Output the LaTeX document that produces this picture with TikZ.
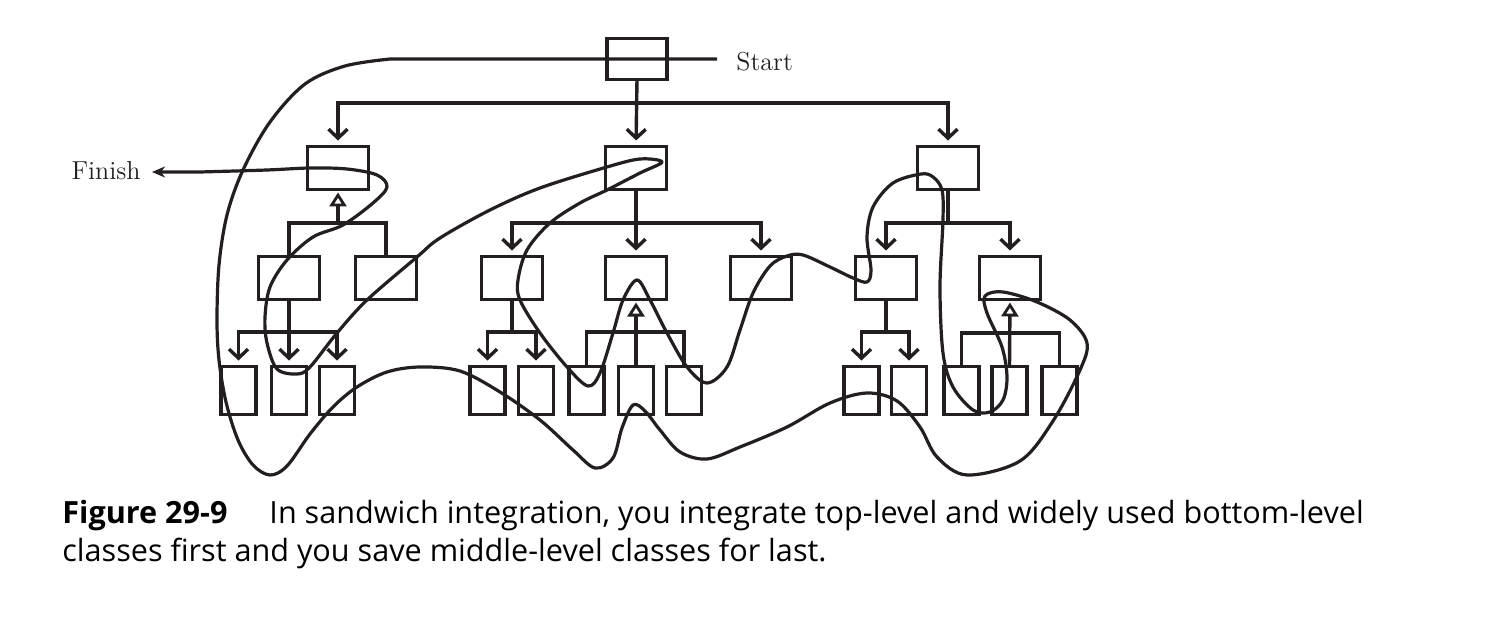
\documentclass[tikz,border=0pt]{standalone}
\usepackage{fontspec}
\newfontfamily\capfont{Open Sans}
\usetikzlibrary{arrows.meta}
\definecolor{ink}{HTML}{231F20}
\begin{document}
\begin{tikzpicture}[x=0.5pt,y=-0.5pt,
  box/.style={draw=ink, line width=1.7pt, inner sep=0pt, outer sep=0pt, minimum width=30.5pt, minimum height=21.5pt},
  leaf/.style={box, minimum width=17.5pt, minimum height=24pt},
  link/.style={draw=ink, line width=1.7pt},
  arr/.style={link, -{Straight Barb[length=4.5pt,width=9.5pt]}, shorten >=3pt},
  uparr/.style={link, -{Triangle[open,length=7pt,width=8.5pt,line width=1.4pt]}, shorten >=1.5pt},
  curve/.style={draw=ink, line width=1.6pt, line join=round},
  lbl/.style={text=ink, font=\fontsize{13}{15}\selectfont, inner sep=0pt},
  captext/.style={anchor=base west, inner sep=0pt, text=black, font=\capfont\fontsize{15.3}{18}\selectfont}]
\useasboundingbox (0,0) rectangle (1512,626);
% top
\node[box, minimum width=30pt, minimum height=20.5pt] (T) at (637,59) {};
% level 1
\node[box] (A) at (338,168) {};
\node[box] (B) at (636,168) {};
\node[box] (C) at (948,168) {};
% level 2
\node[box] (a1) at (289,278) {};
\node[box] (a2) at (386,278) {};
\node[box] (b1) at (512,278) {};
\node[box] (b2) at (636,278) {};
\node[box] (b3) at (761,278) {};
\node[box] (c1) at (886,278) {};
\node[box] (c2) at (1010,278) {};
% level 3
\node[leaf] (a11) at (238.5,390.5) {};
\node[leaf] (a12) at (289,390.5) {};
\node[leaf] (a13) at (337,390.5) {};
\node[leaf] (b11) at (487.5,390.5) {};
\node[leaf] (b12) at (536,390.5) {};
\node[leaf] (b21) at (586.5,390.5) {};
\node[leaf] (b22) at (636,390.5) {};
\node[leaf] (b23) at (684,390.5) {};
\node[leaf] (c11) at (861.5,390.5) {};
\node[leaf] (c12) at (909,390.5) {};
\node[leaf] (c21) at (961.5,390.5) {};
\node[leaf] (c22) at (1009.5,390.5) {};
\node[leaf] (c23) at (1059.5,390.5) {};
% labels
\node[lbl, anchor=west] (Start) at (736,62) {Start};
\node[lbl, anchor=east] (Finish) at (141,171) {Finish};
\coordinate (s0) at (717,59);
\coordinate (f0) at (152,172);
% bus junctions
\coordinate (tb) at (637,103);
\coordinate (ab) at (338,223);
\coordinate (bb) at (636,223);
\coordinate (cb) at (948,223);
\coordinate (a1b) at (289,332);
\coordinate (b1b) at (512,332);
\coordinate (b2b) at (636,332);
\coordinate (c1b) at (886,332);
\coordinate (c2b) at (1010,333);
% top tree
\draw[arr] (T.south) -- (B.north);
\draw[arr] (tb) -| (A.north);
\draw[arr] (tb) -| (C.north);
% A (integrates upward)
\draw[uparr] (ab) -- (A.south);
\draw[link] (a1.north) |- (ab) -| (a2.north);
% B
\draw[link] (B.south) -- (bb);
\draw[arr] (bb) -| (b1.north);
\draw[arr] (bb) -- (b2.north);
\draw[arr] (bb) -| (b3.north);
% C
\draw[link] (C.south) -- (cb);
\draw[arr] (cb) -| (c1.north);
\draw[arr] (cb) -| (c2.north);
% a1
\draw[link] (a1.south) -- (a1b);
\draw[arr] (a1b) -| (a11.north);
\draw[arr] (a1b) -- (a12.north);
\draw[arr] (a1b) -| (a13.north);
% b1
\draw[link] (b1.south) -- (b1b);
\draw[arr] (b1b) -| (b11.north);
\draw[arr] (b1b) -| (b12.north);
% b2 (upward)
\draw[uparr] (b22.north) -- (b2.south);
\draw[link] (b21.north) |- (b2b) -| (b23.north);
% c1
\draw[link] (c1.south) -- (c1b);
\draw[arr] (c1b) -| (c11.north);
\draw[arr] (c1b) -| (c12.north);
% c2 (upward)
\draw[uparr] (c22.north) -- (c2.south);
\draw[link] (c21.north) |- (c2b) -| (c23.north);
% integration path
\draw[curve, -{Stealth[length=6.5pt,width=5.5pt,inset=2pt]}] (s0) -- (390,59) -- plot[smooth, tension=0.55] coordinates {
 (390,59) (345,66) (305,84) (270,122) (243,170) (227,215) (219,265) (217,320) (219,360) (226,402) (238,440) (253,465) (270,475) (287,466) (310,434) (333,407) (357,387) (387,372) (420,367) (460,371) (500,392) (540,420) (573,450) (595,468) (613,458) (622,428) (633,405) (645,411) (660,430) (680,452) (707,459) (740,447) (787,427) (830,403) (867,393) (897,401) (920,427) (937,457) (967,475) (1020,461) (1053,421) (1080,370) (1087,343) (1070,320) (1037,302) (1003,292) (985,296) (987,313) (1002,347) (1007,377) (1003,400) (990,412) (973,410) (953,387) (943,353) (940,287) (943,220) (942,190) (933,177) (921,174) (893,183) (873,207) (867,237) (871,270) (867,282) (853,278) (830,267) (803,255) (787,256) (770,266) (753,293) (740,330) (727,367) (707,383) (687,367) (667,333) (650,300) (637,280) (623,300) (613,333) (600,373) (588,386) (567,367) (540,333) (520,300) (518,280) (527,250) (550,223) (580,203) (607,190) (640,173) (662,162) (640,159) (607,167) (540,188) (490,210) (440,238) (417,257) (367,300) (337,333) (310,367) (297,374) (277,369) (267,343) (265,317) (270,287) (287,260) (313,237) (343,225) (373,203) (387,187) (377,175) (347,169) (310,168) (267,170) (200,172)} -- (f0);
% caption
\node[captext] (cap1) at (62,523) {\textbf{Figure 29-9}\hspace{21pt}In sandwich integration, you integrate top-level and widely used bottom-level};
\node[captext] (cap2) at (62,561) {classes first and you save middle-level classes for last.};
\end{tikzpicture}
\end{document}
